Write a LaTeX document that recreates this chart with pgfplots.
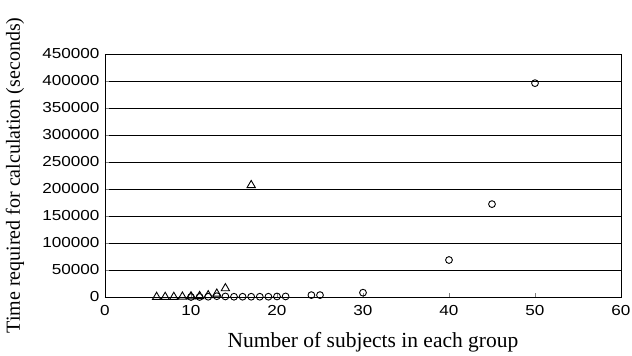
\documentclass[border=0pt]{standalone}
\usepackage{pgfplots}
\pgfplotsset{compat=1.18}
\usepackage{fontspec}
\setmainfont{Liberation Serif}
\newfontfamily\ticksans[FakeStretch=1.18]{Liberation Sans}
\begin{document}
\begin{tikzpicture}[x=1pt,y=1pt]
\useasboundingbox (-105,-59) rectangle (527,297);
\begin{axis}[
  at={(0,0)}, anchor=south west,
  scale only axis, width=516pt, height=243pt,
  xmin=0, xmax=60, ymin=0, ymax=450000,
  xtick={0,10,...,60},
  ytick={0,50000,...,450000},
  scaled y ticks=false,
  /pgf/number format/assume math mode=true,
  yticklabel style={/pgf/number format/fixed, /pgf/number format/1000 sep={}},
  tick label style={font=\ticksans\fontsize{14.5}{16}\selectfont},
  tick align=inside, xtick pos=left, ytick pos=left,
  major tick length=4pt,
  ymajorgrids, grid style={black, line width=0.8pt},
  axis line style={line width=0.9pt},
  xlabel={Number of subjects in each group},
  ylabel={Time required for calculation (seconds)},
  xlabel style={font=\fontsize{21.5}{24}\selectfont, at={(axis description cs:0.5,0)}, anchor=center, yshift=-45pt, xshift=10pt},
  ylabel style={font=\fontsize{20}{22}\selectfont, anchor=center},
  every axis y label/.append style={at={(-90pt,121.5pt)}},
  x tick label style={yshift=-5pt},
  y tick label style={xshift=-2pt},
]
\addplot[only marks, mark=triangle, mark size=4.8pt, mark options={black, line width=0.9pt}] coordinates {
(6,0) (7,0) (8,0) (9,500) (10,1000) (11,1500) (12,3000) (13,6000) (14,16000) (17,207000)
};
\addplot[only marks, mark=o, mark size=3.4pt, mark options={black, line width=0.9pt}] coordinates {
(10,0) (11,0) (12,500) (13,1500) (14,1000) (15,500) (16,500) (17,500) (18,500) (19,500) (20,1000) (21,1000) (24,3500) (25,3500) (30,8000) (40,68500) (45,172000) (50,396000)
};
\end{axis}
\end{tikzpicture}
\end{document}
